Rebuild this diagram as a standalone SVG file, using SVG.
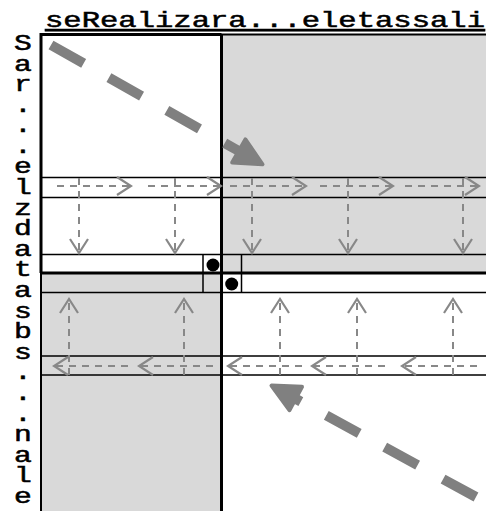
<svg xmlns="http://www.w3.org/2000/svg" width="486" height="511" viewBox="0 0 486 511">
<style>
.lbl{font-family:"Liberation Mono","DejaVu Sans Mono",monospace;font-size:22px;fill:#000;stroke:#000;stroke-width:0.5}
.thin{stroke:#000;stroke-width:1.5;fill:none}
.thick{stroke:#000;stroke-width:3;fill:none}
.sm{stroke:#888;stroke-width:2;fill:none;stroke-dasharray:7 6;marker-end:url(#ah)}
.big{stroke:#808080;stroke-width:10;fill:none;stroke-dasharray:37.5 29}
.head{fill:#808080;stroke:#808080;stroke-width:4;stroke-linejoin:round}
</style>
<defs>
<marker id="ah" viewBox="0 0 20 20" refX="18" refY="10" markerWidth="20" markerHeight="20" markerUnits="userSpaceOnUse" orient="auto">
<path d="M4,1 L18,10 L4,19" fill="none" stroke="#888" stroke-width="2.2"/>
</marker>
</defs>
<rect width="486" height="511" fill="#fff"/>
<g id="regions">
<rect x="221" y="34" width="265" height="239" fill="#d9d9d9"/>
<rect x="41" y="273" width="180" height="238" fill="#d9d9d9"/>
</g>
<g id="grid">
<path class="thin" d="M41,177.5H486M41,197.5H486M41,254.5H486M41,292.5H486M41,356H486M41,375H486"/>
<path class="thin" d="M203,254.5V292.5M241.5,254.5V292.5"/>
<path stroke="#000" stroke-width="2" fill="none" d="M221,34.5H486M41,273V511"/>
<path class="thick" d="M41,273V34.5H221.5M221.5,34V511M41,273H486"/>
<circle cx="213" cy="265" r="6.5" fill="#000"/>
<circle cx="231.7" cy="284" r="6.5" fill="#000"/>
</g>
<g id="connectors">
<path class="sm" d="M57,186H131"/>
<path class="sm" d="M148,186H221"/>
<path class="sm" d="M230,186H306"/>
<path class="sm" d="M320,186H393"/>
<path class="sm" d="M405,186H479"/>
<path class="sm" d="M79,178V253"/>
<path class="sm" d="M175,178V253"/>
<path class="sm" d="M252,178V253"/>
<path class="sm" d="M348,178V253"/>
<path class="sm" d="M463,178V253"/>
<path class="sm" d="M128,366H54"/>
<path class="sm" d="M213,366H139"/>
<path class="sm" d="M302,366H228"/>
<path class="sm" d="M385,366H312"/>
<path class="sm" d="M477,366H402"/>
<path class="sm" d="M69,375V299"/>
<path class="sm" d="M184,375V299"/>
<path class="sm" d="M280,375V299"/>
<path class="sm" d="M357,375V299"/>
<path class="sm" d="M453,375V299"/>
<path class="big" d="M51,45L238.8,151"/>
<polygon class="head" points="262.5,164.3 232.2,162.6 245.4,139.4"/>
<path class="big" d="M476,497L295.3,398.5"/>
<polygon class="head" points="271.5,385.5 302,386.8 289.4,410.2"/>
</g>
<g id="labels">
<text class="lbl" x="45" y="27" textLength="440" lengthAdjust="spacingAndGlyphs" text-decoration="underline">seRealizara...eletassali</text>
<text class="lbl" transform="scale(1.35,1)" text-anchor="middle" x="17 17 17 17 17 17 17 17 17 17 17 17 17 17 17 17 17 17 17 17 17 17 17" y="50 70.6 91.2 111.8 132.4 152.9 173.5 194.1 214.7 235.3 255.9 276.5 297.1 317.7 338.3 358.8 379.4 400 420.6 441.2 461.8 482.4 503">Sar...elzdatasbs...nale</text>
</g>
</svg>
